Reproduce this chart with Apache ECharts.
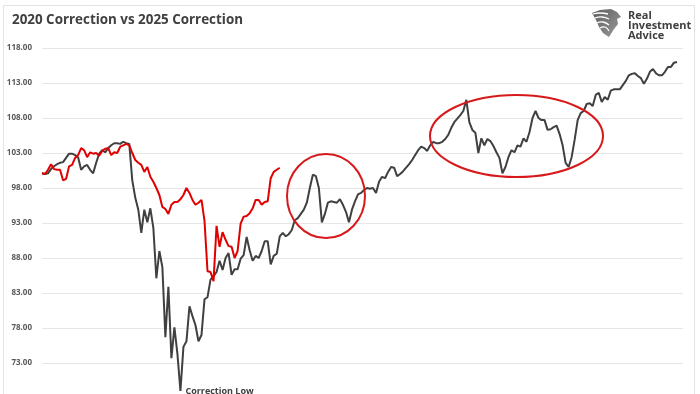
<!DOCTYPE html>
<html><head><meta charset="utf-8">
<script src="https://cdn.jsdelivr.net/npm/echarts@6/dist/echarts.min.js"></script>
<style>html,body{margin:0;padding:0;background:#fff}#c{width:700px;height:394px}</style>
</head><body><div id="c"></div>
<script>
var title = '2020 Correction vs 2025 Correction';
var brand = ['Real', 'Investment', 'Advice'];
var annotation = 'Correction Low';
var yTicks = {min: 68, max: 118, step: 5};
var dayCount = 214;
var days = [];
for (var d = 0; d < dayCount; d++) days.push('Day ' + (d + 1));

var correction2020 = [
100.1,100.0,100.1,100.7,101.1,101.4,101.6,101.7,102.3,102.9,
102.9,102.7,102.4,100.6,101.1,101.3,100.6,100.1,101.6,102.9,
103.4,103.1,103.7,104.1,104.4,104.4,104.3,104.6,104.4,104.3,
99.1,96.6,94.9,91.6,94.9,93.1,95.1,92.3,85.1,89.0,
86.7,76.7,83.9,73.7,78.1,74.3,69.0,75.3,76.1,81.1,
79.7,78.4,76.1,77.0,82.1,82.4,84.9,85.4,86.0,87.6,
86.3,88.0,88.7,85.6,86.4,86.4,87.9,88.4,91.0,89.1,
87.6,88.3,88.0,89.0,90.4,90.4,87.1,88.3,88.6,91.1,
91.6,91.1,91.4,92.0,93.4,93.7,94.3,94.9,95.9,98.0,
99.9,99.7,98.0,93.1,94.3,95.9,96.1,96.0,95.9,96.4,
95.6,94.6,93.1,94.9,96.1,97.1,97.3,97.7,98.0,97.9,
98.0,97.3,98.9,99.6,99.4,100.3,101.0,100.9,99.7,100.0,
100.4,100.9,101.4,102.0,102.7,103.4,103.9,103.7,103.3,104.1,
104.6,104.4,104.4,104.6,105.0,105.6,106.6,107.4,107.9,108.4,
109.0,110.6,107.4,106.3,105.9,103.0,105.1,104.1,105.0,104.7,
104.0,103.1,102.3,100.1,101.0,102.4,103.4,103.1,104.1,103.9,
105.1,104.6,106.0,108.0,109.0,108.0,107.7,107.7,106.3,106.4,
106.7,106.9,105.7,104.1,101.6,101.0,102.4,104.9,107.7,108.7,
109.0,110.0,110.1,109.7,111.3,111.6,110.3,111.0,110.6,111.9,
112.1,112.1,112.1,112.7,113.3,114.1,114.3,114.4,114.0,113.7,
112.9,113.6,114.6,115.0,114.4,114.1,114.1,114.6,115.3,115.3,
115.9,116.0
];
var correction2025 = [
100.1,100.0,100.6,101.4,100.7,100.6,100.6,99.1,99.3,101.1,
101.3,102.3,102.7,103.7,103.4,102.4,103.1,102.9,103.0,102.6,
103.3,103.6,103.7,102.7,103.1,103.0,103.9,104.1,104.3,104.1,
103.0,102.0,101.6,101.3,100.3,101.0,99.6,98.9,98.0,97.0,
95.3,95.0,94.3,95.6,96.0,96.0,96.4,97.0,98.0,97.3,
96.3,95.6,95.9,96.3,93.3,86.1,86.0,84.7,92.6,89.6,
91.7,90.6,89.7,89.6,88.0,89.0,92.9,93.9,94.0,94.4,
95.1,96.3,96.3,95.6,96.0,96.1,99.4,100.3,100.6,100.9
];

var chart = echarts.init(document.getElementById('c'), null, {renderer: 'canvas'});
var circleStyle = {fill: 'none', stroke: '#d7191c', lineWidth: 2};
var stripe = {stroke: '#ffffff', lineWidth: 1.3, fill: 'none'};
chart.setOption({
  animation: false,
  backgroundColor: '#fff',
  title: {
    text: title, left: 7, top: 9,
    textStyle: {fontFamily: 'Open Sans', fontWeight: 'bold', fontSize: 13.4, color: '#404040'}
  },
  grid: {left: 42, right: 17, top: 48, height: 350, containLabel: false, outerBoundsMode: 'none'},
  xAxis: {
    type: 'category', data: days, boundaryGap: false,
    axisLine: {show: false}, axisTick: {show: false}, axisLabel: {show: false}, splitLine: {show: false}
  },
  yAxis: {
    type: 'value', min: yTicks.min, max: yTicks.max, interval: yTicks.step,
    axisLine: {show: false}, axisTick: {show: false},
    axisLabel: {
      margin: 10, formatter: function (v) { return v.toFixed(2); },
      fontFamily: 'Open Sans', fontWeight: 'bold', fontSize: 8, color: '#595959'
    },
    splitLine: {lineStyle: {color: '#e6e6e6', width: 1}}
  },
  series: [
    {
      name: '2020', type: 'line', data: correction2020, symbol: 'none', z: 2,
      lineStyle: {color: '#404040', width: 2},
      markPoint: {
        symbol: 'circle', symbolSize: 0,
        data: [{type: 'min'}],
        label: {
          show: true, position: 'right', distance: 5, formatter: annotation,
          fontFamily: 'Open Sans', fontWeight: 'bold', fontSize: 9, color: '#404040'
        }
      }
    },
    {
      name: '2025', type: 'line', data: correction2025, symbol: 'none', z: 3,
      lineStyle: {color: '#e00000', width: 2}
    }
  ],
  graphic: [
    {type: 'rect', shape: {x: 3.5, y: 5.5, width: 691, height: 400}, style: {fill: 'none', stroke: '#e3e3e3', lineWidth: 1}, z: 0, silent: true},
    {type: 'ellipse', shape: {cx: 326, cy: 196, rx: 39, ry: 42}, style: circleStyle, z: 10},
    {type: 'ellipse', shape: {cx: 516.5, cy: 136, rx: 86.5, ry: 41}, style: circleStyle, z: 10},
    {type: 'polygon', shape: {points: [[592,13],[600,10],[611,9],[617,12],[621,17],[617,19],[618,24],[614,29],[609,37],[603,33],[599,27],[596,20]]},
      style: {fill: new echarts.graphic.LinearGradient(0, 0, 1, 1, [{offset: 0, color: '#5e5e5e'}, {offset: 1, color: '#9a9a9a'}])}, z: 10},
    {type: 'polyline', shape: {points: [[593,14],[600,13],[608,14]], smooth: 0.5}, style: stripe, z: 11},
    {type: 'polyline', shape: {points: [[595,18],[602,17],[609,19]], smooth: 0.5}, style: stripe, z: 11},
    {type: 'polyline', shape: {points: [[597,23],[603,22],[609,25]], smooth: 0.5}, style: stripe, z: 11},
    {type: 'polyline', shape: {points: [[600,28],[605,27],[609,31]], smooth: 0.5}, style: stripe, z: 11},
    {type: 'text', left: 628, top: 10, style: {text: brand.join('\n'), fill: '#404040', font: 'bold 11px "Open Sans"', lineHeight: 10}, z: 10}
  ]
});
</script></body></html>
